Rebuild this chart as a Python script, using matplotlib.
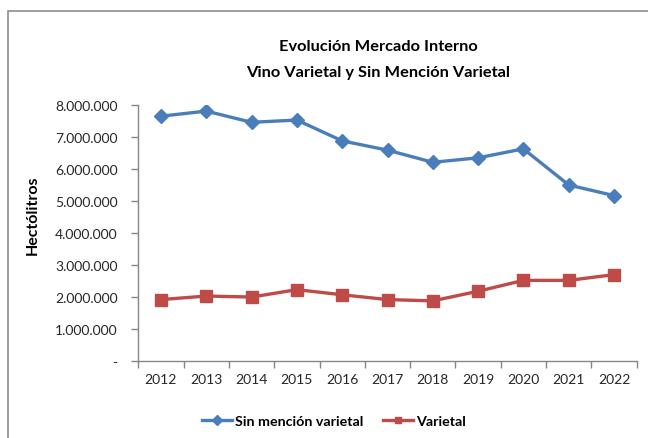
import matplotlib
matplotlib.use("Agg")
import matplotlib.pyplot as plt
from matplotlib.patches import Rectangle
from matplotlib.ticker import FuncFormatter, FixedLocator

years = ["2012", "2013", "2014", "2015", "2016", "2017", "2018", "2019", "2020", "2021", "2022"]
sin_mencion = [7640000, 7800000, 7450000, 7520000, 6870000, 6580000, 6200000, 6340000, 6620000, 5490000, 5160000]
varietal = [1910000, 2020000, 1990000, 2220000, 2060000, 1910000, 1870000, 2170000, 2510000, 2510000, 2690000]
yticks = [0, 1000000, 2000000, 3000000, 4000000, 5000000, 6000000, 7000000, 8000000]

FONT = "Lato"
plt.rcParams['font.family'] = [FONT, 'DejaVu Sans']

W, H = 648, 439
fig = plt.figure(figsize=(W / 100, H / 100), dpi=100)
fig.patch.set_facecolor("white")

# outer chart border
fig.patches.append(Rectangle((8 / W, -0.1), 1.2, 1 - 12 / H + 0.1, transform=fig.transFigure,
                             fill=False, edgecolor="#8c8c8c", linewidth=1.2))

left, right = 138.3 / W, 636.7 / W
bottom, top = 1 - 361.7 / H, 1 - 105.7 / H
ax = fig.add_axes([left, bottom, right - left, top - bottom])

x = list(range(len(years)))
blue = "#4A7EBB"
red = "#BE4B48"
ax.plot(x, sin_mencion, color=blue, lw=2.4, marker="D", markersize=7, label="Sin mención varietal", zorder=3)
ax.plot(x, varietal, color=red, lw=2.4, marker="s", markersize=8, label="Varietal", zorder=3)

ax.set_xlim(-0.5, len(years) - 0.5)
ax.set_ylim(0, 8000000)

ax.set_yticks(yticks)
ax.yaxis.set_major_formatter(FuncFormatter(lambda v, p: "-" if v == 0 else f"{int(v):,}".replace(",", ".")))
ax.set_xticks(x)
ax.set_xticklabels(years)
ax.xaxis.set_minor_locator(FixedLocator([i - 0.5 for i in range(len(years) + 1)]))
ax.tick_params(axis="x", which="major", length=0, pad=9, labelsize=10, labelcolor="#262626")
ax.tick_params(axis="x", which="minor", length=5, color="#868686", width=1)
ax.tick_params(axis="y", length=5, color="#868686", width=1, pad=10, labelsize=10, labelcolor="#262626")

for s in ["top", "right"]:
    ax.spines[s].set_visible(False)
for s in ["left", "bottom"]:
    ax.spines[s].set_color("#868686")
    ax.spines[s].set_linewidth(1)

fig.text(378 / W, 1 - 47 / H, "Evolución Mercado Interno", ha="center", va="center",
         fontsize=11.8, fontweight="bold", color="#000000")
fig.text(378 / W, 1 - 73 / H, "Vino Varietal y Sin Mención Varietal", ha="center", va="center",
         fontsize=11.8, fontweight="bold", color="#000000")
fig.text(33 / W, 1 - 215 / H, "Hectólitros", rotation=90, ha="center", va="center",
         fontsize=11.5, fontweight="bold", color="#000000")

leg = fig.legend(loc="center", bbox_to_anchor=(334 / W, 1 - 422 / H), ncol=2, frameon=False,
                 handlelength=2.1, columnspacing=1.4, handletextpad=0.2,
                 prop={"weight": "bold", "size": 10.3})
for h in leg.legend_handles:
    h.set_markersize(5)

fig.savefig("out.png", dpi=100, facecolor="white")
